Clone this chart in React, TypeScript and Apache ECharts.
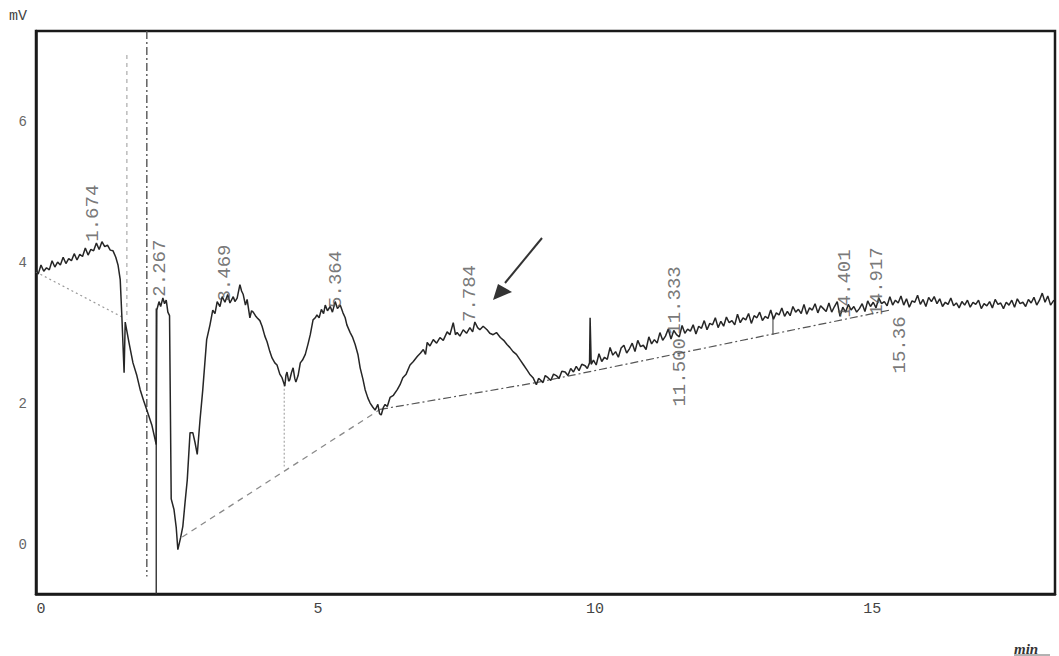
import React, { useEffect, useRef } from "react";
import * as echarts from "echarts";

const xTickValues = [0, 5, 10, 15];
const yTickValues = [0, 2, 4, 6];

// Detector trace (min, mV)
const traceStart: [number, number][] = [
  [-0.09, 3.9], [-0.05, 3.84], [0.0, 3.97], [0.05, 3.88], [0.1, 3.93], [0.15, 3.9], [0.2, 4.03], [0.25, 3.94],
  [0.3, 4.01], [0.35, 3.97], [0.4, 4.08], [0.45, 3.99], [0.5, 4.06], [0.55, 4.03], [0.6, 4.13], [0.65, 4.04],
  [0.7, 4.12], [0.75, 4.09], [0.8, 4.21], [0.85, 4.11], [0.9, 4.19], [0.95, 4.17], [1.0, 4.28], [1.05, 4.19],
  [1.1, 4.3], [1.15, 4.23], [1.2, 4.25], [1.25, 4.18], [1.3, 4.17], [1.35, 4.08], [1.39, 3.97], [1.43, 3.76],
  [1.46, 3.23], [1.5, 2.44], [1.52, 3.16], [1.59, 2.86], [1.66, 2.58], [1.73, 2.4], [1.79, 2.2], [1.85, 2.05],
  [1.91, 1.91], [2.0, 1.7], [2.08, 1.42], [2.09, 3.33], [2.13, 3.45], [2.16, 3.38], [2.2, 3.5], [2.23, 3.42],
  [2.26, 3.47], [2.29, 3.3], [2.32, 3.25], [2.35, 0.65], [2.4, 0.5], [2.44, 0.25], [2.47, -0.07], [2.52, 0.1],
  [2.56, 0.26], [2.6, 0.6], [2.64, 0.92], [2.69, 1.59], [2.74, 1.59], [2.78, 1.45], [2.82, 1.28], [2.87, 1.77],
  [2.92, 2.2], [2.99, 2.91], [3.05, 3.12], [3.1, 3.33], [3.14, 3.28], [3.18, 3.45], [3.23, 3.38], [3.27, 3.52],
  [3.32, 3.44], [3.37, 3.55], [3.41, 3.43], [3.47, 3.52], [3.5, 3.45], [3.54, 3.5], [3.59, 3.69], [3.62, 3.6],
  [3.65, 3.55], [3.69, 3.4], [3.72, 3.48], [3.77, 3.22], [3.8, 3.32], [3.83, 3.3], [3.87, 3.25], [3.9, 3.22],
  [3.95, 3.18], [3.99, 3.1], [4.04, 2.96], [4.08, 2.88], [4.13, 2.74], [4.17, 2.65], [4.22, 2.58], [4.26, 2.55],
  [4.31, 2.42], [4.35, 2.37], [4.4, 2.25], [4.42, 2.4], [4.44, 2.45], [4.47, 2.32], [4.49, 2.34], [4.52, 2.44],
  [4.55, 2.51], [4.58, 2.36], [4.6, 2.31], [4.64, 2.4], [4.68, 2.58], [4.72, 2.62], [4.77, 2.7], [4.82, 2.85],
];

const traceMiddle: [number, number][] = [
  [4.86, 2.98], [4.91, 3.19], [4.95, 3.22], [4.98, 3.26], [5.02, 3.22], [5.06, 3.34], [5.1, 3.28], [5.13, 3.4],
  [5.17, 3.32], [5.22, 3.38], [5.26, 3.3], [5.31, 3.45], [5.35, 3.35], [5.4, 3.4], [5.45, 3.29], [5.49, 3.22],
  [5.52, 3.12], [5.58, 3.01], [5.62, 2.95], [5.67, 2.84], [5.72, 2.7], [5.76, 2.51], [5.81, 2.35], [5.85, 2.2],
  [5.9, 2.08], [5.94, 2.01], [5.99, 1.95], [6.03, 1.91], [6.08, 1.99], [6.11, 1.86], [6.14, 1.84], [6.18, 1.95],
  [6.21, 1.99], [6.25, 1.96], [6.3, 2.09], [6.36, 2.12], [6.43, 2.2], [6.48, 2.27], [6.53, 2.37], [6.59, 2.42],
  [6.66, 2.55], [6.72, 2.6], [6.79, 2.67], [6.85, 2.72], [6.9, 2.77], [6.94, 2.7], [6.97, 2.87], [7.02, 2.82],
  [7.08, 2.91], [7.14, 2.86], [7.2, 2.94], [7.26, 2.9], [7.33, 3.02], [7.38, 2.98], [7.44, 3.15], [7.48, 2.98],
  [7.51, 3.01], [7.56, 2.96], [7.62, 3.05], [7.68, 3.0], [7.74, 3.08], [7.79, 3.02], [7.83, 3.16], [7.88, 3.08],
  [7.92, 3.05], [7.98, 3.1], [8.05, 3.05], [8.1, 3.0], [8.16, 2.98], [8.22, 3.01], [8.29, 2.94], [8.35, 2.9],
  [8.41, 2.84], [8.46, 2.8], [8.52, 2.74], [8.58, 2.7], [8.65, 2.62], [8.71, 2.55], [8.77, 2.48], [8.82, 2.42],
  [8.88, 2.37], [8.94, 2.27], [8.98, 2.36], [9.01, 2.34], [9.06, 2.3], [9.1, 2.4], [9.15, 2.37], [9.2, 2.33],
  [9.25, 2.42], [9.3, 2.4], [9.35, 2.36], [9.4, 2.46], [9.46, 2.45], [9.51, 2.4], [9.56, 2.5], [9.61, 2.45],
  [9.66, 2.53], [9.71, 2.47], [9.76, 2.56], [9.82, 2.54], [9.86, 2.5], [9.9, 2.58], [9.91, 3.22], [9.93, 2.56],
];

const traceEnd: [number, number][] = [
  [9.97, 2.62], [10.02, 2.55], [10.07, 2.71], [10.12, 2.6], [10.17, 2.66], [10.22, 2.63], [10.27, 2.8], [10.32, 2.69],
  [10.37, 2.74], [10.42, 2.66], [10.47, 2.79], [10.52, 2.83], [10.57, 2.72], [10.62, 2.78], [10.67, 2.86], [10.72, 2.74],
  [10.77, 2.9], [10.82, 2.81], [10.87, 2.83], [10.92, 2.77], [10.97, 2.95], [11.02, 2.85], [11.07, 2.91], [11.12, 2.86],
  [11.17, 3.01], [11.22, 2.9], [11.27, 2.96], [11.32, 3.06], [11.37, 2.92], [11.42, 3.04], [11.47, 2.98], [11.52, 2.95],
  [11.57, 3.11], [11.62, 3.0], [11.67, 3.06], [11.72, 3.03], [11.77, 3.12], [11.82, 2.99], [11.87, 3.1], [11.92, 3.07],
  [11.97, 3.18], [12.02, 3.05], [12.07, 3.14], [12.12, 3.12], [12.17, 3.22], [12.22, 3.08], [12.27, 3.17], [12.32, 3.1],
  [12.37, 3.23], [12.42, 3.15], [12.47, 3.18], [12.52, 3.12], [12.57, 3.27], [12.62, 3.15], [12.67, 3.22], [12.72, 3.19],
  [12.77, 3.28], [12.82, 3.14], [12.87, 3.25], [12.92, 3.22], [12.97, 3.3], [13.02, 3.18], [13.07, 3.24], [13.12, 3.21],
  [13.17, 3.33], [13.22, 3.2], [13.27, 3.29], [13.32, 3.26], [13.37, 3.36], [13.42, 3.24], [13.47, 3.31], [13.52, 3.25],
  [13.57, 3.38], [13.62, 3.3], [13.67, 3.34], [13.72, 3.28], [13.77, 3.41], [13.82, 3.27], [13.87, 3.36], [13.92, 3.33],
  [13.97, 3.42], [14.02, 3.29], [14.07, 3.39], [14.12, 3.35], [14.17, 3.31], [14.22, 3.43], [14.27, 3.3], [14.32, 3.38],
  [14.37, 3.45], [14.42, 3.24], [14.47, 3.37], [14.52, 3.3], [14.57, 3.41], [14.62, 3.33], [14.67, 3.38], [14.72, 3.3],
  [14.77, 3.35], [14.82, 3.42], [14.87, 3.31], [14.92, 3.46], [14.97, 3.38], [15.02, 3.44], [15.07, 3.36], [15.12, 3.5],
  [15.17, 3.42], [15.22, 3.45], [15.27, 3.39], [15.32, 3.52], [15.37, 3.4], [15.42, 3.47], [15.47, 3.43], [15.52, 3.53],
  [15.57, 3.4], [15.62, 3.49], [15.67, 3.37], [15.72, 3.46], [15.77, 3.44], [15.82, 3.54], [15.87, 3.41], [15.92, 3.48],
  [15.97, 3.38], [16.02, 3.51], [16.07, 3.45], [16.12, 3.52], [16.17, 3.42], [16.22, 3.49], [16.27, 3.38], [16.32, 3.44],
  [16.37, 3.41], [16.42, 3.5], [16.47, 3.39], [16.52, 3.43], [16.57, 3.36], [16.62, 3.45], [16.67, 3.4], [16.72, 3.47],
  [16.77, 3.37], [16.82, 3.44], [16.87, 3.41], [16.92, 3.47], [16.97, 3.35], [17.02, 3.42], [17.07, 3.39], [17.12, 3.45],
  [17.17, 3.36], [17.22, 3.48], [17.27, 3.41], [17.32, 3.43], [17.37, 3.35], [17.42, 3.44], [17.47, 3.4], [17.52, 3.47],
  [17.57, 3.37], [17.62, 3.49], [17.67, 3.42], [17.72, 3.44], [17.77, 3.38], [17.82, 3.48], [17.87, 3.43], [17.92, 3.51],
  [17.97, 3.4], [18.02, 3.47], [18.07, 3.57], [18.12, 3.44], [18.17, 3.53], [18.22, 3.4], [18.28, 3.47],
];

// Integration baselines
const baselineA: [number, number][] = [[-0.09, 3.87], [1.49, 3.22]];
const baselineB: [number, number][] = [[2.55, 0.11], [6.12, 1.92]];
const baselineC: [number, number][] = [[6.12, 1.92], [8.94, 2.3]];
const baselineD: [number, number][] = [[8.94, 2.3], [15.32, 3.33]];

// Vertical peak markers
const markerDash: [number, number][] = [[1.55, 6.95], [1.55, 3.2]];
const markerDashDot: [number, number][] = [[1.91, 7.29], [1.91, -0.45]];
const markerSolid: [number, number][] = [[2.08, 3.35], [2.08, -0.7]];
const markerDrop1: [number, number][] = [[4.39, 2.27], [4.39, 1.11]];
const markerDrop2: [number, number][] = [[13.21, 3.25], [13.21, 2.98]];

// Retention time labels
const peakNames = ["1.674", "2.267", "3.469", "5.364", "7.784", "11.333", "11.500", "14.401", "14.917", "15.36"];
const peakLabelX = [0.94, 2.15, 3.32, 5.32, 7.74, 11.44, 11.53, 14.51, 15.09, 15.51];
const peakLabelY = [4.3, 3.52, 3.45, 3.36, 3.16, 2.98, 1.96, 3.22, 3.25, 2.43];

const MONO = "'Liberation Mono', 'DejaVu Sans Mono', monospace";

export default function App() {
  const ref = useRef<HTMLDivElement>(null);
  useEffect(() => {
    if (!ref.current) return;
    const chart = echarts.init(ref.current, undefined, { renderer: "svg" });
    const lineSeries = (data: [number, number][], color: string, width: number, type: any, z = 2) => ({
      type: "line",
      data,
      showSymbol: false,
      symbol: "none",
      silent: true,
      z,
      lineStyle: { color, width, type },
    });
    chart.setOption({
      animation: false,
      backgroundColor: "#ffffff",
      grid: {
        left: 36,
        right: 4,
        top: 31,
        bottom: 62,
        show: true,
        borderColor: "#1a1a1a",
        borderWidth: 2.5,
      },
      xAxis: {
        type: "value",
        min: -0.09,
        max: 18.3,
        axisLine: { show: true, onZero: false, lineStyle: { color: "#1a1a1a", width: 2.5 } },
        axisTick: { show: false },
        splitLine: { show: false },
        axisLabel: {
          customValues: xTickValues,
          color: "#444",
          fontFamily: MONO,
          fontSize: 15,
          margin: 8,
        },
      },
      yAxis: {
        type: "value",
        min: -0.7,
        max: 7.29,
        axisLine: { show: true, onZero: false, lineStyle: { color: "#1a1a1a", width: 2.5 } },
        axisTick: { show: false },
        splitLine: { show: false },
        axisLabel: {
          customValues: yTickValues,
          color: "#666",
          fontFamily: MONO,
          fontSize: 14,
          margin: 9,
        },
      },
      series: [
        lineSeries(baselineA, "#9a9a9a", 1.2, [2, 3]),
        lineSeries(baselineB, "#8a8a8a", 1.3, [6, 5]),
        lineSeries(baselineC, "#555", 1.2, [8, 3, 2, 3]),
        lineSeries(baselineD, "#555", 1.2, [8, 3, 2, 3]),
        lineSeries(markerDash, "#aaa", 1.2, [4, 4]),
        lineSeries(markerDashDot, "#555", 1.4, [8, 3, 2, 3]),
        lineSeries(markerSolid, "#333", 1.4, "solid"),
        lineSeries(markerDrop1, "#aaa", 1.2, [2, 2]),
        lineSeries(markerDrop2, "#555", 1.2, "solid"),
        lineSeries([...traceStart, ...traceMiddle, ...traceEnd], "#262626", 1.5, "solid", 5),
        {
          type: "scatter",
          symbolSize: 0,
          silent: true,
          z: 6,
          data: peakNames.map((n, i) => ({ value: [peakLabelX[i], peakLabelY[i]], name: n })),
          label: {
            show: true,
            formatter: (p: any) => p.name,
            position: "inside",
            rotate: 90,
            align: "left",
            verticalAlign: "middle",
            color: "#555",
            fontFamily: MONO,
            fontSize: 19,
          },
        },
      ],
      graphic: [
        {
          type: "text",
          left: 9,
          top: 9,
          style: { text: "mV", fill: "#444", font: `15px ${MONO}` },
        },
        {
          type: "text",
          left: 1014,
          top: 641,
          style: {
            text: "min",
            fill: "#333",
            font: "italic bold 15px 'Liberation Serif', serif",
          },
        },
        {
          type: "line",
          shape: { x1: 1014, y1: 655, x2: 1050, y2: 655 },
          style: { stroke: "#666", lineWidth: 1 },
        },
        {
          type: "line",
          shape: { x1: 542, y1: 238, x2: 505, y2: 283 },
          style: { stroke: "#333", lineWidth: 2 },
        },
        {
          type: "polygon",
          shape: { points: [[493, 300], [498, 284], [512, 292]] },
          style: { fill: "#333" },
        },
      ],
    });
    return () => chart.dispose();
  }, []);
  return (
    <div
      ref={ref}
      style={{ position: "absolute", left: 0, top: 0, width: 1059, height: 656 }}
    />
  );
}
